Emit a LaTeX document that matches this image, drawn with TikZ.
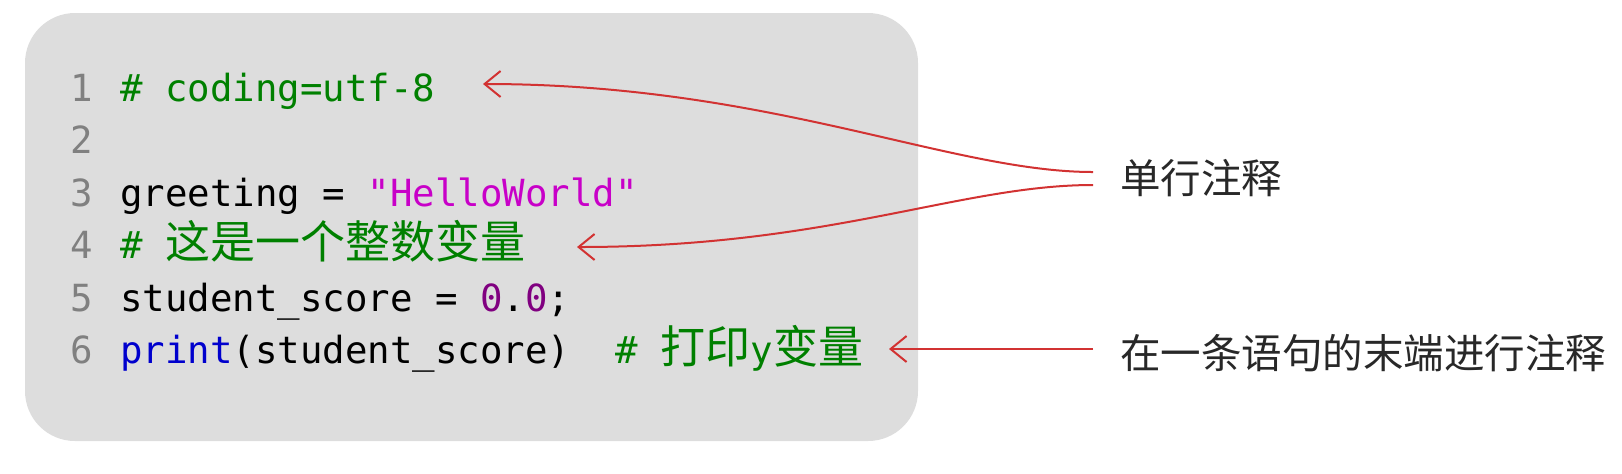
\documentclass[tikz,border=0pt]{standalone}
\usepackage{fontspec}
\usetikzlibrary{arrows.meta}
\newfontfamily\codefont{DejaVu Sans Mono}
\newfontfamily\cjkfont{Noto Sans CJK SC}
\definecolor{codebg}{RGB}{221,221,221}
\definecolor{linenum}{RGB}{128,128,128}
\definecolor{cmtgreen}{RGB}{0,128,0}
\definecolor{strmagenta}{RGB}{200,0,200}
\definecolor{numpurple}{RGB}{128,0,128}
\definecolor{kwblue}{RGB}{0,0,205}
\definecolor{notered}{RGB}{210,50,50}
\definecolor{notetext}{RGB}{40,40,40}
\newcommand{\cjkcode}[1]{{\cjkfont\fontsize{22.5pt}{24pt}\selectfont #1}}
\begin{document}
\begin{tikzpicture}[x=0.5pt,y=-0.5pt,
    lineno/.style={anchor=base,inner sep=0pt,text=linenum,font=\codefont\fontsize{18.69pt}{22pt}\selectfont},
    codeline/.style={anchor=base west,inner sep=0pt,font=\codefont\fontsize{18.69pt}{22pt}\selectfont},
    note/.style={anchor=west,inner sep=0pt,text=notetext,font=\cjkfont\fontsize{20.25pt}{24pt}\selectfont},
    pointer/.style={draw=notered,line width=1pt,-{Straight Barb[length=8pt,width=13pt]}}]
    \useasboundingbox (0,0) rectangle (1622,473);
    \fill[codebg,rounded corners=25pt] (25,13) rectangle (918,441);

    \foreach \n in {1,...,6}
        \node[lineno] (n\n) at (82,{101+52.5*(\n-1)}) {\n};

    \node[codeline] (line1) at (120,101) {\textcolor{cmtgreen}{\#\ coding=utf-8}};
    \node[codeline] (line3) at (120,206) {greeting = \textcolor{strmagenta}{"HelloWorld"}};
    \node[codeline] (line4) at (120,258.5) {\textcolor{cmtgreen}{\#\ \cjkcode{这是一个整数变量}}};
    \node[codeline] (line5) at (120,311) {student\_score = \textcolor{numpurple}{0}.\textcolor{numpurple}{0};};
    \node[codeline] (line6) at (120,363.5) {\textcolor{kwblue}{print}(student\_score)\ \ \textcolor{cmtgreen}{\#\ \cjkcode{打印}y\cjkcode{变量}}};

    \node[note] (single) at (1120,178) {单行注释};
    \node[note] (endline) at (1120,353) {在一条语句的末端进行注释};

    \coordinate (tip1) at (483,84);
    \coordinate (tip4) at (577,247);
    \coordinate (tip6) at (889,349);

    \draw[pointer] ([xshift=-13.5pt,yshift=3pt]single.west) .. controls (950,172) and (770,84) .. (tip1);
    \draw[pointer] ([xshift=-13.5pt,yshift=-3.5pt]single.west) .. controls (960,185) and (830,247) .. (tip4);
    \draw[pointer] ([xshift=-13.5pt,yshift=2pt]endline.west) -- (tip6);
\end{tikzpicture}
\end{document}
